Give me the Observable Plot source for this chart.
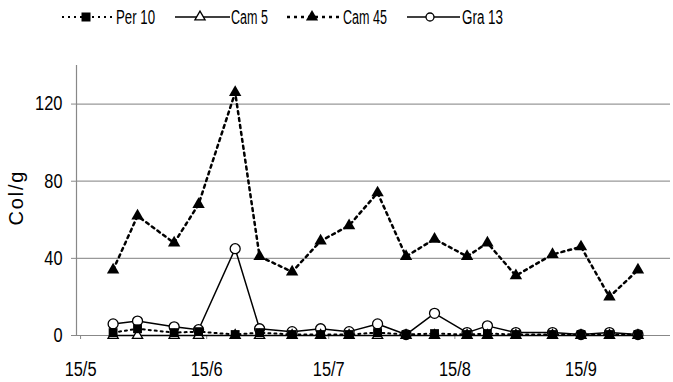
<!DOCTYPE html>
<html><head><meta charset="utf-8">
<script src="https://cdn.jsdelivr.net/npm/d3@7"></script>
<script src="https://cdn.jsdelivr.net/npm/@observablehq/plot@0.6"></script>
<style>
body{margin:0;background:#fff;font-family:"Liberation Sans",Arial,sans-serif;}
#legend{display:block;}
#chart svg{display:block;}
</style></head><body>
<svg id="legend" width="673" height="40"></svg>
<div id="chart"></div>
<script>
const dates = ["2008-05-23","2008-05-29","2008-06-07","2008-06-13","2008-06-22","2008-06-28","2008-07-06","2008-07-13","2008-07-20","2008-07-27","2008-08-03","2008-08-10","2008-08-18","2008-08-23","2008-08-30","2008-09-08","2008-09-15","2008-09-22","2008-09-29"];
const per10 = [1.5, 3.5, 1.5, 2, 0.5, 1.5, 0.5, 0.5, 0.5, 1.5, 0.5, 1, 0.5, 1, 0.5, 0.5, 0.5, 0.5, 0.5];
const cam5  = [0, 0, 0, 0, 0, 0, 0, 0, 0, 0, 0, 0, 0, 0, 0, 0, 0, 0, 0];
const cam45 = [34, 62, 48, 68, 126, 41, 33, 49, 57, 74, 41, 50, 41, 48, 31, 42, 46, 20, 34];
const gra13 = [6, 7.5, 4.5, 3, 45, 3.5, 2, 3.5, 2, 6, 0.5, 11.5, 1.5, 5, 1.5, 1.5, 0.5, 1.5, 0.5];
const seriesNames = ["Per 10", "Cam 5", "Cam 45", "Gra 13"];
const yTicks = [0, 40, 80, 120];
const xTicks = ["2008-05-15","2008-06-15","2008-07-15","2008-08-15","2008-09-15"];
const yLabel = "Col/g";

const FONT = '"Liberation Sans",Arial,sans-serif';
const seriesValues = [per10, cam5, cam45, gra13];
const data = seriesNames.map((s, k) => dates.map((d, i) => ({date: new Date(d), v: seriesValues[k][i], s})));
const [dPer, dCam5, dCam45, dGra] = data;

const chart = Plot.plot({
  width: 673, height: 342,
  marginLeft: 76, marginRight: 3, marginTop: 25, marginBottom: 47,
  style: {fontFamily: FONT, fontSize: "20px", color: "#000", background: "#fff", overflow: "visible"},
  x: {type: "utc", domain: [new Date("2008-05-14"), new Date("2008-10-07")]},
  y: {domain: [0, 140]},
  marks: [
    Plot.ruleY(yTicks.filter(d => d > 0), {stroke: "#999", strokeWidth: 1.2}),
    Plot.ruleX([new Date("2008-05-14")], {y1: 0, y2: 140, stroke: "#888", strokeWidth: 1.2}),
    Plot.ruleY([0], {stroke: "#888", strokeWidth: 1.2}),
    Plot.axisY({ticks: yTicks, tickSize: 5, tickPadding: 9, label: null, stroke: "#888", fontSize: 20}),
    Plot.axisX({ticks: xTicks.map(d => new Date(d)), tickFormat: d3.utcFormat("%-d/%-m"), tickSize: 4, tickPadding: 22, label: null, stroke: "#888", fontSize: 20}),
    Plot.text([yLabel], {frameAnchor: "left", rotate: -90, dx: -60, dy: 25, fontSize: 20, className: "ylab"}),
    Plot.line(dPer, {x: "date", y: "v", stroke: "#000", strokeWidth: 2, strokeDasharray: "2,4"}),
    Plot.line(dCam5, {x: "date", y: "v", stroke: "#000", strokeWidth: 1.5}),
    Plot.line(dCam45, {x: "date", y: "v", stroke: "#000", strokeWidth: 2.5, strokeDasharray: "3,4"}),
    Plot.line(dGra, {x: "date", y: "v", stroke: "#000", strokeWidth: 1.5}),
    Plot.dot(dGra, {x: "date", y: "v", r: 5, stroke: "#000", strokeWidth: 1.3, fill: "#fff"}),
    Plot.dot(dCam5, {x: "date", y: "v", symbol: "triangle", r: 3.8, stroke: "#000", strokeWidth: 1.3, fill: "#fff"}),
    Plot.dot(dPer, {x: "date", y: "v", symbol: "square", r: 5, fill: "#000", stroke: "none"}),
    Plot.dot(dCam45, {x: "date", y: "v", symbol: "triangle", r: 4.6, fill: "#000", stroke: "none"})
  ]
});
document.getElementById("chart").append(chart);
// narrow the tick text horizontally, like the reference's condensed face
chart.querySelectorAll("text").forEach(t => {
  if (t.closest(".ylab")) {
    t.setAttribute("textLength", 54); t.setAttribute("lengthAdjust", "spacing");
    return;
  }
  const w = t.getComputedTextLength();
  if (w > 0) { t.setAttribute("textLength", (w * 0.82).toFixed(1)); t.setAttribute("lengthAdjust", "spacingAndGlyphs"); }
});

// Legend
const leg = d3.select("#legend");
const items = [
  {x1: 62, x2: 112, mx: 86, tx: 116, tw: 39, dash: "2,4", sw: 2, sym: d3.symbolSquare, size: 81, fill: "#000"},
  {x1: 175, x2: 230, mx: 200, tx: 231, tw: 37, dash: null, sw: 1.5, sym: d3.symbolTriangle, size: 45, fill: "#fff"},
  {x1: 287, x2: 340, mx: 312, tx: 343, tw: 44, dash: "3,4", sw: 2.5, sym: d3.symbolTriangle, size: 64, fill: "#000"},
  {x1: 407, x2: 460, mx: 430, tx: 462, tw: 41, dash: null, sw: 1.5, sym: d3.symbolCircle, size: 50, fill: "#fff"}
];
items.forEach((it, i) => {
  const g = leg.append("g");
  g.append("line").attr("x1", it.x1).attr("x2", it.x2).attr("y1", 17).attr("y2", 17)
    .attr("stroke", "#000").attr("stroke-width", it.sw).attr("stroke-dasharray", it.dash);
  g.append("path").attr("d", d3.symbol(it.sym, it.size)()).attr("transform", `translate(${it.mx},17)`)
    .attr("fill", it.fill).attr("stroke", it.fill === "#fff" ? "#000" : "none").attr("stroke-width", 1.3);
  g.append("text").attr("x", it.tx).attr("y", 24).attr("font-size", 20).attr("font-family", FONT)
    .attr("textLength", it.tw).attr("lengthAdjust", "spacingAndGlyphs").text(seriesNames[i]);
});
</script>
</body></html>
